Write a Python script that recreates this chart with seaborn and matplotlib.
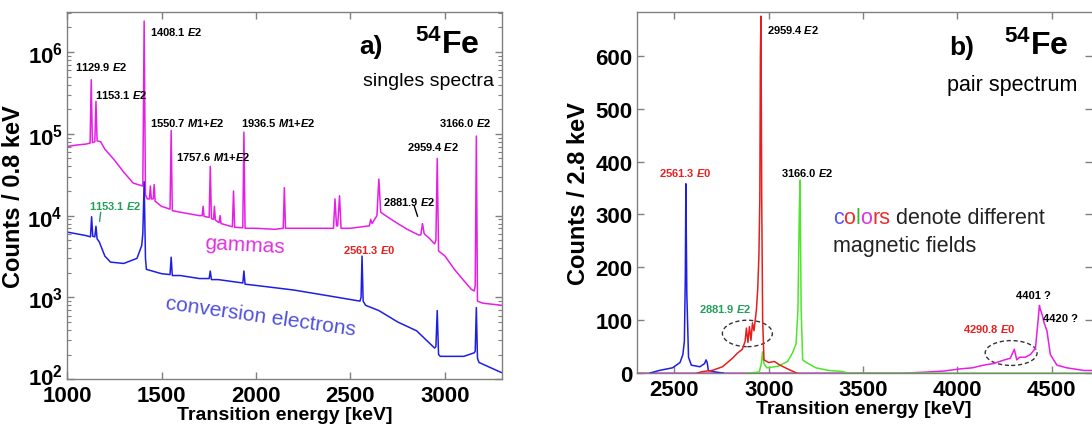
import numpy as np
import pandas as pd
import seaborn as sns
import matplotlib
matplotlib.use("Agg")
import matplotlib.pyplot as plt
import matplotlib.transforms as mtransforms
from matplotlib.patches import Ellipse
from matplotlib.ticker import FixedLocator, FuncFormatter, LogLocator, NullFormatter

# ---- panel a) singles spectra (counts / 0.8 keV) ----
gamma_E = [1000, 1050, 1100, 1122, 1128, 1134, 1147, 1153, 1159, 1178, 1200, 1250, 1300, 1350,
           1401, 1408, 1415, 1425, 1436, 1441, 1446, 1456, 1461, 1466, 1500, 1545, 1551, 1557,
           1600, 1700, 1715, 1720, 1725, 1752, 1758, 1764, 1775, 1780, 1785, 1805, 1810, 1815,
           1875, 1881, 1887, 1930, 1936, 1942, 2000, 2100, 2144, 2150, 2156, 2300, 2410, 2418,
           2426, 2432, 2442, 2450, 2500, 2600, 2607, 2614, 2640, 2650, 2660, 2700, 2750, 2800,
           2860, 2872, 2881, 2890, 2920, 2945, 2952, 2959, 2966, 3000, 3050, 3100, 3140, 3155,
           3160, 3166, 3172, 3200, 3300]
gamma_counts = [7.0e4, 7.3e4, 7.5e4, 7.7e4, 4.6e5, 7.8e4, 8.0e4, 2.5e5, 8.2e4, 8.0e4, 6.5e4, 4.8e4,
                3.4e4, 2.5e4, 2.3e4, 2.4e6, 1.8e4, 1.6e4, 1.6e4, 2.3e4, 1.6e4, 1.6e4, 2.4e4, 1.5e4,
                1.3e4, 1.2e4, 1.1e5, 1.15e4, 1.1e4, 1.0e4, 1.0e4, 1.3e4, 9.8e3, 9.5e3, 4.0e4,
                9.2e3, 9.0e3, 1.3e4, 8.8e3, 8.2e3, 1.0e4, 8.0e3, 7.3e3, 2.0e4, 7.2e3, 7.1e3,
                1.05e5, 7.0e3, 7.0e3, 6.8e3, 7.0e3, 2.2e4, 7.0e3, 7.0e3, 7.0e3, 1.6e4, 7.5e3,
                7.5e3, 1.75e4, 7.0e3, 7.0e3, 7.5e3, 9.0e3, 8.0e3, 1.0e4, 2.8e4, 1.1e4, 9.5e3,
                8.0e3, 6.8e3, 5.8e3, 5.8e3, 8.0e3, 6.0e3, 5.2e3, 4.5e3, 5.0e3, 5.0e4, 3.7e3,
                3.2e3, 2.2e3, 1.6e3, 1.25e3, 1.2e3, 1.4e3, 9.4e4, 9.0e2, 8.5e2, 8.0e2]

ce_E = [1000, 1100, 1124, 1130, 1136, 1147, 1153, 1159, 1170, 1200, 1230, 1300, 1370, 1395,
        1401, 1408, 1415, 1420, 1500, 1545, 1551, 1557, 1600, 1700, 1752, 1758, 1764, 1800,
        1930, 1936, 1942, 2000, 2200, 2400, 2550, 2556, 2561, 2567, 2580, 2650, 2750, 2850,
        2945, 2952, 2959, 2966, 2975, 3100, 3155, 3160, 3166, 3172, 3180, 3300]
ce_counts = [6.3e3, 5.7e3, 5.5e3, 9.7e3, 5.6e3, 5.5e3, 7.4e3, 5.2e3, 4.8e3, 3.2e3, 2.7e3, 2.6e3,
             3.0e3, 4.3e3, 6.0e3, 2.6e4, 3.0e3, 2.2e3, 1.95e3, 1.9e3, 3.1e3, 1.85e3, 1.85e3,
             1.7e3, 1.7e3, 2.1e3, 1.65e3, 1.65e3, 1.5e3, 2.1e3, 1.45e3, 1.4e3, 1.23e3, 1.03e3,
             9.0e2, 1.0e3, 3.2e3, 9.0e2, 8.0e2, 6.9e2, 5.0e2, 3.9e2, 2.4e2, 2.5e2, 6.9e2, 2.0e2,
             1.9e2, 1.9e2, 2.1e2, 2.2e2, 7.5e2, 1.8e2, 1.6e2, 1.2e2]

# ---- panel b) pair spectrum (counts / 2.8 keV), one colour per magnetic field ----
blue_E = [2370, 2420, 2490, 2530, 2545, 2553, 2558, 2561, 2566, 2575, 2590, 2635, 2660, 2668,
          2674, 2680, 2720, 2760]
blue_counts = [0, 5, 10, 20, 35, 60, 180, 358, 150, 30, 15, 12, 18, 25, 20, 5, 2, 0]

red_E = [2620, 2650, 2700, 2755, 2808, 2835, 2860, 2875, 2882, 2890, 2898, 2906, 2914, 2922,
         2935, 2942, 2948, 2953, 2956, 2959, 2963, 2968, 2975, 3000, 3030, 3060, 3100, 3130, 3150]
red_counts = [0, 3, 5, 12, 28, 38, 45, 60, 85, 58, 88, 62, 95, 80, 120, 160, 220, 330, 600, 675,
              330, 100, 25, 20, 22, 15, 8, 3, 0]

green_E = [2885, 2950, 2962, 2967, 2975, 2990, 3050, 3100, 3126, 3145, 3155, 3162, 3166, 3172,
           3180, 3200, 3250, 3320, 3390, 3420, 4712]
green_counts = [0, 2, 20, 40, 18, 10, 13, 22, 38, 55, 120, 300, 365, 120, 25, 20, 10, 5, 3, 0, 0]

mag_E = [2300, 3720, 3840, 3930, 4015, 4080, 4138, 4190, 4250, 4280, 4302, 4315, 4330, 4360,
         4387, 4414, 4428, 4435, 4440, 4450, 4460, 4475, 4493, 4528, 4580, 4617, 4670, 4712]
mag_counts = [0, 0, 2, 4, 8, 10, 15, 18, 25, 28, 45, 25, 30, 30, 35, 47, 100, 128, 120, 110, 95,
              80, 35, 15, 10, 8, 5, 5]

# ---- labels ----
ce_line_labels = [("1129.9 $\\mathbfit{E}$2", 1042, 6.8e5, "black"),
                  ("1153.1 $\\mathbfit{E}$2", 1148, 3.1e5, "black"),
                  ("1408.1 $\\mathbfit{E}$2", 1439, 1.8e6, "black"),
                  ("1550.7 $\\mathbfit{M}$1+$\\mathbfit{E}$2", 1439, 1.4e5, "black"),
                  ("1757.6 $\\mathbfit{M}$1+$\\mathbfit{E}$2", 1577, 5.3e4, "black"),
                  ("1936.5 $\\mathbfit{M}$1+$\\mathbfit{E}$2", 1920, 1.4e5, "black"),
                  ("3166.0 $\\mathbfit{E}$2", 2968, 1.4e5, "black"),
                  ("2959.4 $\\mathbfit{E}$2", 2799, 7.1e4, "black"),
                  ("2881.9 $\\mathbfit{E}$2", 2672, 1.5e4, "black"),
                  ("1153.1 $\\mathbfit{E}$2", 1117, 1.35e4, "#22a05a"),
                  ("2561.3 $\\mathbfit{E}$0", 2461, 3.9e3, "#e82020")]
leader_green = ([1178, 1172], [1.1e4, 8.5e3])
leader_black = ([2838, 2855], [1.3e4, 9.8e3])

pair_labels = [("2959.4 $\\mathbfit{E}$2", 2993, 651, "black"),
               ("2561.3 $\\mathbfit{E}$0", 2420, 381, "#e82020"),
               ("3166.0 $\\mathbfit{E}$2", 3067, 381, "black"),
               ("2881.9 $\\mathbfit{E}$2", 2633, 123, "#22a05a"),
               ("4401 ?", 4313, 147, "black"),
               ("4420 ?", 4452, 104, "black"),
               ("4290.8 $\\mathbfit{E}$0", 4032, 85, "#e82020")]
ellipses = [(2887, 75, 265, 50), (4285, 38, 275, 47)]

MAG = "#e61ee6"
BLUE = "#1e1ee6"
RED = "#e61e1e"
GREEN = "#4ee62a"

sns.set_theme(style="ticks")
plt.rcParams["font.family"] = ["Liberation Sans", "DejaVu Sans"]
plt.rcParams.update({
    "mathtext.fontset": "custom",
    "mathtext.rm": "Liberation Sans",
    "mathtext.it": "Liberation Sans:italic",
    "mathtext.bf": "Liberation Sans:bold",
    "mathtext.bfit": "Liberation Sans:italic:bold",
    "text.color": "black",
    "axes.labelcolor": "black",
    "axes.edgecolor": "#808080",
    "axes.linewidth": 1.0,
    "xtick.color": "#808080",
    "ytick.color": "#808080",
    "xtick.labelcolor": "black",
    "ytick.labelcolor": "black",
})

fig = plt.figure(figsize=(10.92, 4.31), dpi=100)
ax1 = fig.add_axes([0.0614, 0.118, 0.398, 0.852])
ax2 = fig.add_axes([0.583, 0.132, 0.4167, 0.838])

# panel a
singles = pd.concat([
    pd.DataFrame({"E": gamma_E, "counts": gamma_counts, "kind": "gammas"}),
    pd.DataFrame({"E": ce_E, "counts": ce_counts, "kind": "conversion electrons"}),
])
sns.lineplot(data=singles, x="E", y="counts", hue="kind", palette={"gammas": MAG, "conversion electrons": BLUE},
             estimator=None, sort=False, lw=1.1, legend=False, ax=ax1)
ax1.set_yscale("log")
ax1.set_xlim(1000, 3300)
ax1.set_ylim(100, 3.1e6)
ax1.xaxis.set_major_locator(FixedLocator([1000, 1500, 2000, 2500, 3000]))
ax1.yaxis.set_major_locator(LogLocator(base=10, numticks=10))
ax1.yaxis.set_minor_locator(LogLocator(base=10, subs=np.arange(2, 10), numticks=10))
ax1.yaxis.set_minor_formatter(NullFormatter())
ax1.yaxis.set_major_formatter(FuncFormatter(lambda v, p: "$\\mathbf{10^{%d}}$" % round(np.log10(v))))
ax1.set_xlabel("Transition energy [keV]", fontsize=14, fontweight="bold", labelpad=0)
ax1.set_ylabel("Counts / 0.8 keV", fontsize=17, fontweight="bold", labelpad=2)

for txt, x, y, c in ce_line_labels:
    ax1.text(x, y, txt, color=c, fontsize=8, fontweight="bold", va="center", ha="left")
ax1.plot(*leader_green, color="#22a05a", lw=1)
ax1.plot(*leader_black, color="black", lw=1)

ax1.text(1725, 4.0e3, "gammas", color="#dd33dd", fontsize=15, rotation=-3,
         rotation_mode="anchor", ha="left", va="baseline")
ax1.text(1518, 7.4e2, "conversion electrons", color="#5050dd", fontsize=15, rotation=-8,
         rotation_mode="anchor", ha="left", va="baseline")
ax1.text(0.70, 0.907, "a)", transform=ax1.transAxes, fontsize=19, fontweight="bold", ha="center", va="center")
ax1.text(0.874, 0.912, "$\\mathbf{^{54}Fe}$", transform=ax1.transAxes, fontsize=23, ha="center", va="center")
ax1.text(0.982, 0.812, "singles spectra", transform=ax1.transAxes, fontsize=14, ha="right", va="center")

# panel b
pair = pd.concat([
    pd.DataFrame({"E": mag_E, "counts": mag_counts, "field": "m"}),
    pd.DataFrame({"E": green_E, "counts": green_counts, "field": "g"}),
    pd.DataFrame({"E": blue_E, "counts": blue_counts, "field": "b"}),
    pd.DataFrame({"E": red_E, "counts": red_counts, "field": "r"}),
])
sns.lineplot(data=pair, x="E", y="counts", hue="field", palette={"m": MAG, "g": GREEN, "b": BLUE, "r": RED},
             estimator=None, sort=False, lw=1.1, legend=False, ax=ax2)
ax2.set_xlim(2300, 4712)
ax2.set_ylim(0, 683)
ax2.xaxis.set_major_locator(FixedLocator([2500, 3000, 3500, 4000, 4500]))
ax2.yaxis.set_major_locator(FixedLocator([0, 100, 200, 300, 400, 500, 600]))
ax2.set_xlabel("Transition energy [keV]", fontsize=14, fontweight="bold", labelpad=0)
ax2.set_ylabel("Counts / 2.8 keV", fontsize=17, fontweight="bold", labelpad=4)
ax2.spines["right"].set_visible(False)

for txt, x, y, c in pair_labels:
    ax2.text(x, y, txt, color=c, fontsize=8, fontweight="bold", va="center", ha="left")
for cx, cy, w, h in ellipses:
    ax2.add_patch(Ellipse((cx, cy), w, h, fill=False, ls=(0, (3, 2)), lw=1, ec="#333333"))

ax2.text(0.714, 0.903, "b)", transform=ax2.transAxes, fontsize=19, fontweight="bold", ha="center", va="center")
ax2.text(0.879, 0.908, "$\\mathbf{^{54}Fe}$", transform=ax2.transAxes, fontsize=23, ha="center", va="center")
ax2.text(0.683, 0.80, "pair spectrum", transform=ax2.transAxes, fontsize=15.5, ha="left", va="center")

# multicoloured "colors"
pieces = [("c", "#5555ee"), ("o", "#e83030"), ("l", "#33bb33"), ("o", "#dd33dd"), ("rs", "#e83030"),
          (" denote different", "#222222")]
t = ax2.text(0.431, 0.402, pieces[0][0], color=pieces[0][1], transform=ax2.transAxes,
             fontsize=15.5, ha="left", va="bottom")
for s, c in pieces[1:]:
    t = ax2.annotate(s, xy=(1, 0), xycoords=t, color=c, fontsize=15.5, ha="left", va="bottom")
ax2.text(0.431, 0.352, "magnetic fields", transform=ax2.transAxes, fontsize=15.5, ha="left",
         va="center", color="#222222")

for ax in (ax1, ax2):
    ax.tick_params(axis="both", which="major", direction="in", length=5, width=1,
                   labelsize=16, top=True, right=True, pad=3)
    ax.tick_params(axis="both", which="minor", direction="in", length=3, width=0.8, right=True)
    ax.tick_params(axis="x", which="major", pad=4)
    for lab in ax.get_xticklabels() + ax.get_yticklabels():
        lab.set_fontweight("bold")

# lift the bottom decade label a little so it sits above the 1000 label
fig.canvas.draw()
for lab in ax1.get_yticklabels():
    if "{2}" in lab.get_text():
        lab.set_transform(lab.get_transform() + mtransforms.ScaledTranslation(0, 4 / 72, fig.dpi_scale_trans))

fig.savefig("out.png", dpi=100)
